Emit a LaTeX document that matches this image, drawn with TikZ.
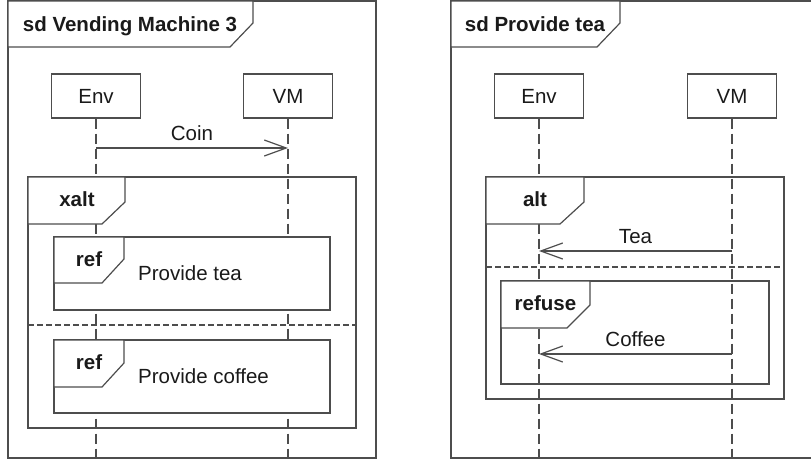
\documentclass[tikz,border=0pt]{standalone}
\usepackage{fontspec}
\setmainfont{Liberation Sans}
\usetikzlibrary{arrows.meta}
\definecolor{edge}{HTML}{4D4D4D}
\definecolor{ink}{HTML}{1A1A1A}
\tikzset{
  txt/.style={font=\fontsize{20.5}{24}\selectfont, text=ink, inner sep=0pt, anchor=base},
  boldtxt/.style={txt, font=\fontsize{20.5}{24}\selectfont\bfseries},
  frameline/.style={draw=edge, line width=1.2pt},
  tabshape/.style={frameline, fill=white},
  lifebox/.style={frameline, fill=white, minimum width=89pt, minimum height=44pt,
    inner sep=0pt, font=\fontsize{20.5}{24}\selectfont, text=ink},
  lifeline/.style={draw=edge, line width=1.2pt, dash pattern=on 10pt off 5pt},
  separator/.style={draw=edge, line width=1.2pt, dash pattern=on 6pt off 3pt},
  msg/.style={draw=edge, line width=1.2pt,
    -{Straight Barb[length=22pt,width=16pt,line width=1.2pt]}},
  msglabel/.style={font=\fontsize{20.5}{24}\selectfont, text=ink, inner sep=0pt,
    anchor=base, yshift=8pt},
}
\begin{document}
\begin{tikzpicture}[x=1pt, y=-1pt, line join=miter]
\useasboundingbox (0,0) rectangle (811,459);

% ---------------- sd Vending Machine 3 ----------------
\draw[frameline, fill=white] (8,1) rectangle (376,458);
\draw[tabshape] (8,1) -- (253,1) -- (253,23) -- (230,47) -- (8,47) -- cycle;
\node[boldtxt] (title1) at (130,31) {sd Vending Machine 3};

\node[lifebox] (env1) at (96,96) {Env};
\node[lifebox] (vm1) at (288,96) {VM};
\coordinate (env1end) at (env1.south |- 0,458);
\coordinate (vm1end) at (vm1.south |- 0,458);
\draw[lifeline] (env1.south) -- (env1end);
\draw[lifeline] (vm1.south) -- (vm1end);

% Coin message
\coordinate (coinA) at (env1.south |- 0,148);
\coordinate (coinB) at (vm1.south |- 0,148);
\draw[msg] (coinA) -- node[msglabel] (coinlbl) {Coin} (coinB);

% xalt fragment
\draw[frameline] (28,177) rectangle (356,428);
\draw[tabshape] (28,177) -- (125,177) -- (125,202) -- (102,224) -- (28,224) -- cycle;
\node[boldtxt] (xaltlbl) at (77,206.5) {xalt};

% first operand: ref Provide tea
\draw[frameline, fill=white] (54,237) rectangle (330,310);
\draw[tabshape] (54,237) -- (124,237) -- (124,259) -- (102,283) -- (54,283) -- cycle;
\node[boldtxt] (ref1lbl) at (89,266) {ref};
\node[txt, anchor=base west] (ref1txt) at (138,280) {Provide tea};

\draw[separator] (28,325) -- (356,325);

% second operand: ref Provide coffee
\draw[frameline, fill=white] (54,340) rectangle (330,413);
\draw[tabshape] (54,340) -- (124,340) -- (124,363) -- (102,387) -- (54,387) -- cycle;
\node[boldtxt] (ref2lbl) at (89,369) {ref};
\node[txt, anchor=base west] (ref2txt) at (138,383) {Provide coffee};

% ---------------- sd Provide tea ----------------
\draw[frameline, fill=white] (451,1) rectangle (813,458);
\draw[tabshape] (451,1) -- (620,1) -- (620,23) -- (597,47) -- (451,47) -- cycle;
\node[boldtxt] (title2) at (535,31) {sd Provide tea};

\node[lifebox] (env2) at (539,96) {Env};
\node[lifebox] (vm2) at (732,96) {VM};
\coordinate (env2end) at (env2.south |- 0,458);
\coordinate (vm2end) at (vm2.south |- 0,458);
\draw[lifeline] (env2.south) -- (env2end);
\draw[lifeline] (vm2.south) -- (vm2end);

% alt fragment
\draw[frameline] (486,177) rectangle (784,399);
\draw[tabshape] (486,177) -- (584,177) -- (584,202) -- (560,224) -- (486,224) -- cycle;
\node[boldtxt] (altlbl) at (535,206.5) {alt};

% Tea message
\coordinate (teaA) at (vm2.south |- 0,251);
\coordinate (teaB) at (env2.south |- 0,251);
\draw[msg] (teaA) -- node[msglabel] (tealbl) {Tea} (teaB);

\draw[separator] (486,267) -- (784,267);

% refuse fragment
\draw[frameline] (501,281) rectangle (769,384);
\draw[tabshape] (501,281) -- (590,281) -- (590,305) -- (567,328) -- (501,328) -- cycle;
\node[boldtxt] (refuselbl) at (545.5,310) {refuse};

% Coffee message
\coordinate (coffA) at (vm2.south |- 0,354);
\coordinate (coffB) at (env2.south |- 0,354);
\draw[msg] (coffA) -- node[msglabel] (cofflbl) {Coffee} (coffB);
\end{tikzpicture}
\end{document}
